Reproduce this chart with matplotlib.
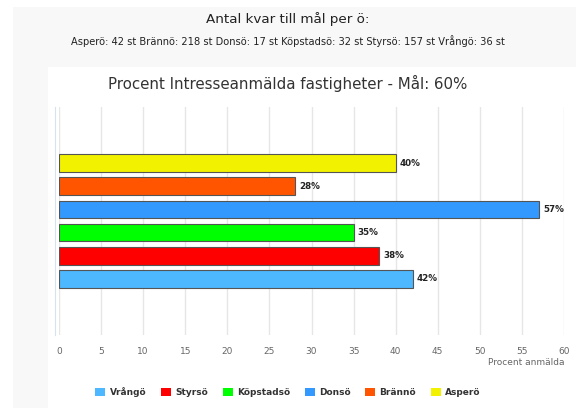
import matplotlib.pyplot as plt
from matplotlib.patches import Rectangle

islands = ['Vrångö', 'Styrsö', 'Köpstadsö', 'Donsö', 'Brännö', 'Asperö']
percent = [42, 38, 35, 57, 28, 40]
colors = ['#4db8ff', '#ff0000', '#00ff00', '#3399ff', '#ff5500', '#f2f200']
remaining = {'Asperö': 42, 'Brännö': 218, 'Donsö': 17, 'Köpstadsö': 32, 'Styrsö': 157, 'Vrångö': 36}
xticks = list(range(0, 61, 5))

W, H = 576, 408
fig = plt.figure(figsize=(W / 100, H / 100), dpi=100)
fig.patch.set_facecolor('white')

# gray outer panel and white chart panel
fig.patches.append(Rectangle((13 / W, 0), 1, 1 - 7 / H, transform=fig.transFigure,
                             facecolor='#f8f8f8', edgecolor='none', zorder=-10))
fig.patches.append(Rectangle((48 / W, 0), 1, 1 - 67 / H, transform=fig.transFigure,
                             facecolor='white', edgecolor='none', zorder=-9))

fig.text(0.5, 1 - 19 / H, 'Antal kvar till mål per ö:', ha='center', va='center',
         fontsize=9.7, color='#222222')
sub = ' '.join(f'{k}: {v} st' for k, v in remaining.items())
fig.text(0.5, 1 - 41 / H, sub, ha='center', va='center', fontsize=7.1, color='#222222')
fig.text(0.5, 1 - 83 / H, 'Procent Intresseanmälda fastigheter - Mål: 60%', ha='center',
         va='center', fontsize=10.8, color='#333333')

ax = fig.add_axes([59 / W, 1 - 335 / H, (564 - 59) / W, (335 - 107) / H])
ax.set_facecolor('none')

for i, (name, val, c) in enumerate(zip(islands, percent, colors)):
    ax.barh(i, val, height=0.78, color=c, edgecolor='#555555', linewidth=0.8,
            label=name, zorder=3)
    ax.text(val + 0.5, i, f'{val}%', va='center', ha='left', fontsize=6.3,
            fontweight='bold', color='#222222', zorder=4)

ax.set_xlim(0, 60)
ax.set_ylim(-2.45, 7.45)
ax.set_xticks(xticks)
ax.set_yticks([])
ax.grid(axis='x', color='#e6e6e6', linewidth=1, zorder=0)
ax.tick_params(axis='x', length=0, pad=9, labelsize=6.5, labelcolor='#666666')
for s in ['top', 'right', 'bottom']:
    ax.spines[s].set_visible(False)
ax.spines['left'].set_color('#d8e2ec')
ax.spines['left'].set_position(('outward', 3))
ax.text(1.0, -0.12, 'Procent anmälda', transform=ax.transAxes, ha='right', va='center',
        fontsize=6.5, color='#666666')

handles, labels = ax.get_legend_handles_labels()
leg = fig.legend(handles, labels, loc='center', bbox_to_anchor=(0.5, 1 - 392 / H), ncol=6,
                 frameon=False, handlelength=1.1, handleheight=1.1, handletextpad=0.5,
                 columnspacing=1.6, prop={'size': 6.5, 'weight': 'bold'})
for t in leg.get_texts():
    t.set_color('#333333')
for h in leg.legend_handles:
    h.set_edgecolor('none')

fig.savefig('out.png', dpi=100)
